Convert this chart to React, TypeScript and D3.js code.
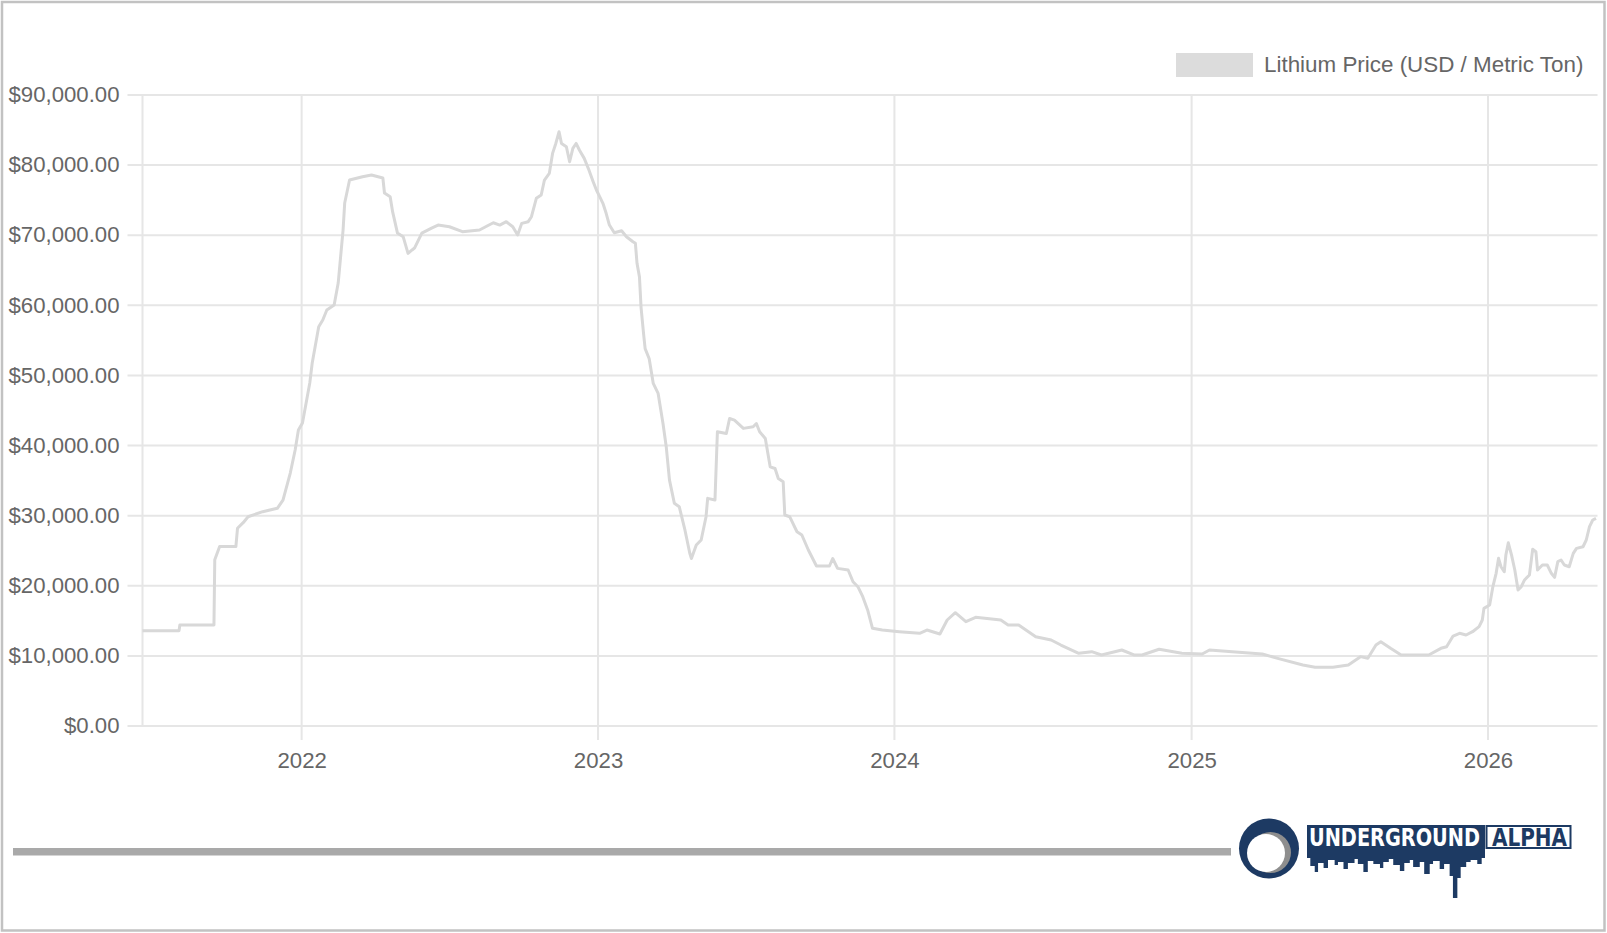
import React, { useEffect, useRef } from 'react';
import * as d3 from 'd3';

// Lithium price (USD / metric ton)
const prices2021: [string, number][] = [
  ['2021-06-19', 13600], ['2021-07-11', 13600], ['2021-08-03', 13600], ['2021-08-04', 14400],
  ['2021-09-15', 14400], ['2021-09-16', 23700], ['2021-09-22', 25600], ['2021-10-12', 25600],
  ['2021-10-14', 28200], ['2021-10-21', 29000], ['2021-10-27', 29850], ['2021-11-14', 30570],
  ['2021-12-02', 31050], ['2021-12-09', 32230], ['2021-12-18', 36080], ['2021-12-24', 39370],
  ['2021-12-28', 42220],
];

const prices2022: [string, number][] = [
  ['2022-01-02', 43220], ['2022-01-11', 48920], ['2022-01-14', 51780], ['2022-01-22', 56950],
  ['2022-01-27', 57910], ['2022-02-01', 59330], ['2022-02-10', 60050], ['2022-02-15', 63180],
  ['2022-02-21', 70740], ['2022-02-23', 74590], ['2022-03-01', 77870], ['2022-03-17', 78350],
  ['2022-03-28', 78590], ['2022-04-11', 78160], ['2022-04-13', 76020], ['2022-04-20', 75500],
  ['2022-04-23', 73360], ['2022-04-29', 70310], ['2022-05-06', 69790], ['2022-05-12', 67410],
  ['2022-05-17', 67900], ['2022-05-20', 68170], ['2022-05-29', 70310], ['2022-06-10', 71020],
  ['2022-06-18', 71450], ['2022-07-02', 71210], ['2022-07-18', 70500], ['2022-08-08', 70740],
  ['2022-08-25', 71780], ['2022-09-02', 71450], ['2022-09-10', 71930], ['2022-09-18', 71210],
  ['2022-09-24', 70030], ['2022-09-29', 71690], ['2022-10-07', 71930], ['2022-10-11', 72640],
  ['2022-10-17', 75260], ['2022-10-23', 75740], ['2022-10-27', 77870], ['2022-11-02', 78820],
  ['2022-11-06', 81670], ['2022-11-10', 83090], ['2022-11-14', 84760], ['2022-11-17', 83090],
  ['2022-11-23', 82620], ['2022-11-27', 80480], ['2022-12-01', 82380], ['2022-12-05', 83090],
  ['2022-12-09', 82150], ['2022-12-15', 80960], ['2022-12-20', 79540], ['2022-12-26', 77640],
  ['2022-12-30', 76450],
];

const prices2023: [string, number][] = [
  ['2023-01-03', 75500], ['2023-01-07', 74550], ['2023-01-11', 73130], ['2023-01-15', 71450],
  ['2023-01-21', 70350], ['2023-01-30', 70640], ['2023-02-05', 69790], ['2023-02-13', 69070],
  ['2023-02-16', 68840], ['2023-02-18', 66000], ['2023-02-21', 64060], ['2023-02-23', 59680],
  ['2023-02-26', 56040], ['2023-02-28', 53830], ['2023-03-05', 52390], ['2023-03-10', 48860],
  ['2023-03-16', 47430], ['2023-03-22', 43150], ['2023-03-26', 39820], ['2023-03-30', 35070],
  ['2023-04-05', 31760], ['2023-04-11', 31280], ['2023-04-18', 27960], ['2023-04-24', 24630],
  ['2023-04-26', 23890], ['2023-05-02', 25820], ['2023-05-08', 26530], ['2023-05-14', 29850],
  ['2023-05-16', 32470], ['2023-05-25', 32230], ['2023-05-28', 41960], ['2023-06-08', 41720],
  ['2023-06-12', 43860], ['2023-06-18', 43630], ['2023-06-29', 42450], ['2023-07-11', 42690],
  ['2023-07-15', 43150], ['2023-07-19', 41960], ['2023-07-26', 41010], ['2023-08-01', 36970],
  ['2023-08-07', 36730], ['2023-08-11', 35300], ['2023-08-17', 34840], ['2023-08-19', 30090],
  ['2023-08-25', 29850], ['2023-09-03', 27710], ['2023-09-09', 27240], ['2023-09-17', 25100],
  ['2023-09-27', 22820], ['2023-10-13', 22820], ['2023-10-17', 23890], ['2023-10-23', 22480],
  ['2023-11-05', 22250], ['2023-11-11', 20580], ['2023-11-17', 19870], ['2023-11-23', 18440],
  ['2023-11-29', 16550], ['2023-12-05', 13930], ['2023-12-17', 13690],
];

const prices2024: [string, number][] = [
  ['2024-01-07', 13450], ['2024-02-01', 13220], ['2024-02-10', 13690], ['2024-02-26', 13120],
  ['2024-03-06', 15120], ['2024-03-16', 16160], ['2024-03-29', 14880], ['2024-04-10', 15500],
  ['2024-05-11', 15120], ['2024-05-20', 14410], ['2024-06-02', 14410], ['2024-06-23', 12740],
  ['2024-07-12', 12270], ['2024-07-24', 11550], ['2024-08-15', 10370], ['2024-08-31', 10600],
  ['2024-09-12', 10130], ['2024-10-07', 10840], ['2024-10-22', 10130], ['2024-11-01', 10130],
  ['2024-11-22', 10940], ['2024-12-20', 10370],
];

const prices2025: [string, number][] = [
  ['2025-01-14', 10270], ['2025-01-23', 10840], ['2025-02-20', 10600], ['2025-03-29', 10270],
  ['2025-04-17', 9650], ['2025-05-18', 8700], ['2025-06-02', 8370], ['2025-06-24', 8370],
  ['2025-07-13', 8700], ['2025-07-28', 9890], ['2025-08-06', 9650], ['2025-08-16', 11550],
  ['2025-08-22', 12030], ['2025-09-03', 11080], ['2025-09-16', 10130], ['2025-10-20', 10130],
  ['2025-11-04', 11080], ['2025-11-11', 11310], ['2025-11-19', 12830], ['2025-11-27', 13220],
  ['2025-12-05', 12980], ['2025-12-13', 13450], ['2025-12-21', 14170], ['2025-12-25', 15120],
  ['2025-12-27', 16780],
];

const prices2026: [string, number][] = [
  ['2026-01-03', 17260], ['2026-01-07', 19870], ['2026-01-11', 21780], ['2026-01-14', 23920],
  ['2026-01-17', 22720], ['2026-01-21', 22000], ['2026-01-23', 24380], ['2026-01-26', 26130],
  ['2026-01-30', 24380], ['2026-02-03', 22250], ['2026-02-07', 19400], ['2026-02-11', 19870],
  ['2026-02-15', 20830], ['2026-02-21', 21540], ['2026-02-25', 25200], ['2026-03-01', 24860],
  ['2026-03-03', 22250], ['2026-03-09', 22960], ['2026-03-15', 22960], ['2026-03-20', 21780],
  ['2026-03-24', 21200], ['2026-03-28', 23440], ['2026-04-01', 23680], ['2026-04-05', 22960],
  ['2026-04-11', 22720], ['2026-04-16', 24620], ['2026-04-20', 25340], ['2026-04-28', 25570],
  ['2026-05-02', 26530], ['2026-05-06', 28430], ['2026-05-10', 29380], ['2026-05-14', 29620],
];

const yTicks = [0, 10000, 20000, 30000, 40000, 50000, 60000, 70000, 80000, 90000];
const yearTicks = ['2022', '2023', '2024', '2025', '2026'];
const legendLabel = 'Lithium Price (USD / Metric Ton)';

const W = 1607;
const H = 933;
const FONT = '"Liberation Sans", Arial, Helvetica, sans-serif';
const LOGO_FONT = 'bold 20px "DejaVu Sans Condensed", "DejaVu Sans", sans-serif';
const TEXT = '#666';
const GRID = '#e6e6e6';
const LINE = '#d8d8d8';
const NAVY = '#1d3a63';

// building outline under the logo word mark: [width, depth]
const skyline: [number, number][] = [
  [3, 8], [4, 16], [3, 22], [5, 13], [4, 18], [6, 10], [3, 15], [5, 12], [4, 19], [6, 13],
  [3, 9], [5, 14], [4, 22], [5, 11], [6, 14], [3, 18], [5, 12], [4, 9], [6, 15], [4, 21],
  [5, 13], [3, 10], [6, 17], [4, 12], [5, 24], [3, 14], [6, 11], [4, 19], [5, 14], [3, 26],
  [4, 48], [3, 28], [5, 17], [4, 12], [6, 10], [4, 14], [3, 8],
];

const App = () => {
  const ref = useRef<SVGSVGElement | null>(null);

  useEffect(() => {
    const svg = d3.select(ref.current);
    svg.selectAll('*').remove();

    const parse = d3.timeParse('%Y-%m-%d');
    const data = [...prices2021, ...prices2022, ...prices2023, ...prices2024, ...prices2025, ...prices2026]
      .map(([d, v]) => ({ date: parse(d) as Date, value: v }));

    const left = 142.5, right = 1596, top = 95, bottom = 726;

    const x = d3.scaleTime()
      .domain(d3.extent(data, d => d.date) as [Date, Date])
      .range([left, right]);
    const y = d3.scaleLinear().domain([0, 90000]).range([bottom, top]);

    // frame
    svg.append('rect')
      .attr('x', 2).attr('y', 2).attr('width', W - 4.5).attr('height', H - 4.5)
      .attr('fill', 'white').attr('stroke', '#c2c2c2').attr('stroke-width', 2.5);

    // horizontal grid + y axis
    svg.append('g')
      .selectAll('line')
      .data(yTicks)
      .enter()
      .append('line')
      .attr('x1', left - 15).attr('x2', 1597.5)
      .attr('y1', d => y(d)).attr('y2', d => y(d))
      .attr('stroke', GRID).attr('stroke-width', 2);

    const yAxis = svg.append('g')
      .attr('transform', `translate(${left},0)`)
      .call(d3.axisLeft(y).tickValues(yTicks).tickSize(0).tickPadding(23).tickFormat(d3.format('$,.2f') as any));
    yAxis.select('.domain').remove();
    yAxis.selectAll('text')
      .attr('fill', TEXT).style('font', `22.2px ${FONT}`).attr('dy', '0.3em');

    // vertical grid + x axis
    const years = yearTicks.map(t => parse(`${t}-01-01`) as Date);
    svg.append('line')
      .attr('x1', left).attr('x2', left).attr('y1', top).attr('y2', bottom)
      .attr('stroke', GRID).attr('stroke-width', 2);
    svg.append('g')
      .selectAll('line')
      .data(years)
      .enter()
      .append('line')
      .attr('x1', d => x(d)).attr('x2', d => x(d))
      .attr('y1', top).attr('y2', bottom + 14)
      .attr('stroke', GRID).attr('stroke-width', 2);

    const xAxis = svg.append('g')
      .attr('transform', `translate(0,${bottom})`)
      .call(d3.axisBottom(x).tickValues(years).tickSize(0).tickPadding(26).tickFormat(d3.timeFormat('%Y') as any));
    xAxis.select('.domain').remove();
    xAxis.selectAll('text')
      .attr('fill', TEXT).style('font', `22.2px ${FONT}`);

    // price line
    const line = d3.line<{ date: Date; value: number }>()
      .x(d => x(d.date))
      .y(d => y(d.value));

    svg.append('path')
      .datum(data)
      .attr('fill', 'none')
      .attr('stroke', LINE)
      .attr('stroke-width', 3)
      .attr('stroke-linejoin', 'round')
      .attr('d', line);

    // legend
    svg.append('rect')
      .attr('x', 1176).attr('y', 53).attr('width', 77).attr('height', 24)
      .attr('fill', '#dcdcdc');
    svg.append('text')
      .attr('x', 1264).attr('y', 72)
      .attr('fill', TEXT).style('font', `22.4px ${FONT}`)
      .text(legendLabel);

    // footer bar
    svg.append('rect')
      .attr('x', 13).attr('y', 848).attr('width', 1218).attr('height', 7.5)
      .attr('fill', '#a9a9a9');

    // logo
    const logo = svg.append('g');
    logo.append('circle').attr('cx', 1269).attr('cy', 848.5).attr('r', 30).attr('fill', NAVY);
    logo.append('circle').attr('cx', 1270.5).attr('cy', 852.5).attr('r', 20.5).attr('fill', '#8e8e8e');
    logo.append('circle').attr('cx', 1266).attr('cy', 853).attr('r', 19).attr('fill', 'white');

    logo.append('rect').attr('x', 1307).attr('y', 825).attr('width', 178).attr('height', 30).attr('fill', NAVY);
    const totalW = d3.sum(skyline, d => d[0]);
    let sx = 1307;
    let p = `M1307,850`;
    skyline.forEach(([w, dpt]) => {
      const ww = w * 178 / totalW;
      p += `L${sx},${850 + dpt}L${sx + ww},${850 + dpt}`;
      sx += ww;
    });
    p += `L1485,850Z`;
    logo.append('path').attr('d', p).attr('fill', NAVY);

    logo.append('rect').attr('x', 1486.5).attr('y', 826).attr('width', 84).attr('height', 22)
      .attr('fill', 'white').attr('stroke', NAVY).attr('stroke-width', 2);

    // word mark, stretched to fill its boxes
    logo.append('text')
      .attr('transform', 'translate(1309,846) scale(1,1.2)')
      .attr('textLength', 171).attr('lengthAdjust', 'spacingAndGlyphs')
      .attr('fill', 'white')
      .style('font', LOGO_FONT)
      .text('UNDERGROUND');
    logo.append('text')
      .attr('transform', 'translate(1492,846) scale(1,1.2)')
      .attr('textLength', 75).attr('lengthAdjust', 'spacingAndGlyphs')
      .attr('fill', NAVY)
      .style('font', LOGO_FONT)
      .text('ALPHA');
  }, []);

  return (
    <div style={{ position: 'absolute', left: 0, top: 0 }}>
      <svg ref={ref} width={W} height={H} style={{ display: 'block' }} />
    </div>
  );
};

export default App;
